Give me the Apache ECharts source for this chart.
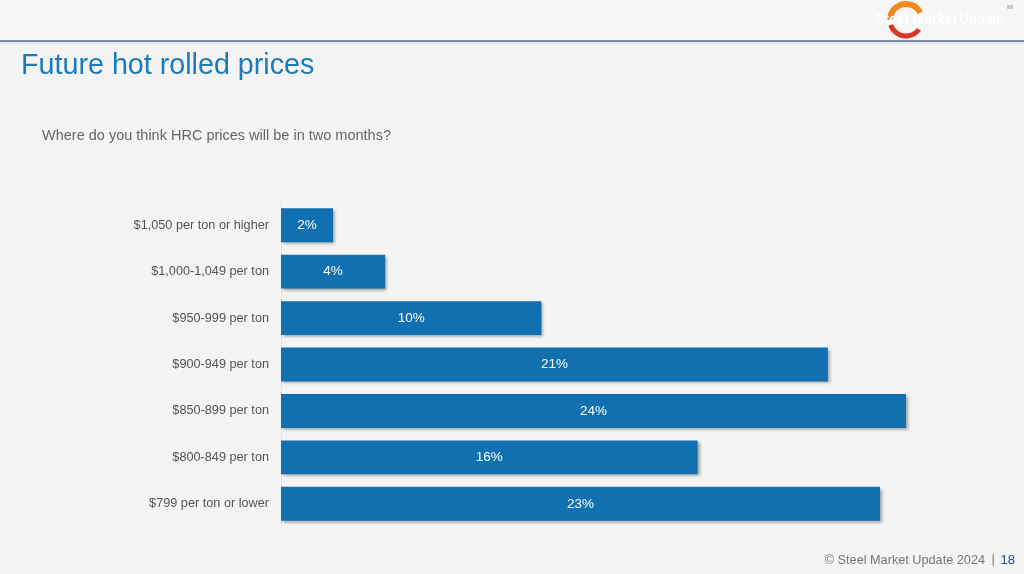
<!DOCTYPE html>
<html><head><meta charset="utf-8">
<script src="https://cdn.jsdelivr.net/npm/echarts@6/dist/echarts.min.js"></script>
<style>html,body{margin:0;padding:0;background:#f4f4f4}#c{width:1024px;height:574px}</style>
</head><body><div id="c"></div>
<script>
const categories = ["$1,050 per ton or higher","$1,000-1,049 per ton","$950-999 per ton","$900-949 per ton","$850-899 per ton","$800-849 per ton","$799 per ton or lower"];
const values = [2,4,10,21,24,16,23];
const titleText = "Future hot rolled prices";
const subtitleText = "Where do you think HRC prices will be in two months?";

const chart = echarts.init(document.getElementById('c'));
const F = '"Liberation Sans", Arial, sans-serif';
chart.setOption({
  backgroundColor: '#f4f4f4',
  animation: false,
  grid: {left: 281, top: 202, width: 625, height: 325},
  xAxis: {type: 'value', min: 0, max: 24, show: false},
  yAxis: {type: 'category', data: categories, inverse: true,
    axisLine: {show: true, lineStyle: {color: '#e2e2e2', width: 1}},
    axisTick: {show: false},
    axisLabel: {color: '#555', fontSize: 12.7, fontFamily: F, margin: 12}},
  series: [{type: 'bar', data: values, barCategoryGap: '27%',
    itemStyle: {color: '#1170b0', shadowColor: 'rgba(0,0,0,0.35)', shadowBlur: 3, shadowOffsetX: 2, shadowOffsetY: 2},
    label: {show: true, position: 'inside', formatter: '{c}%', color: '#fff', fontSize: 13.5, fontFamily: F}}],
  graphic: [
    {type: 'rect', shape: {x: 0, y: 0, width: 1024, height: 41}, style: {fill: '#f6f6f6'}, z: -1},
    {type: 'line', shape: {x1: 0, y1: 41, x2: 1024, y2: 41}, style: {stroke: '#1d2d6b', lineWidth: 1.2, shadowColor: 'rgba(0,0,0,0.25)', shadowBlur: 3, shadowOffsetY: 1}},
    {type: 'arc', shape: {cx: 906, cy: 20, r: 16, startAngle: Math.PI * 1.0, endAngle: Math.PI * 1.85}, style: {stroke: '#f08a1c', lineWidth: 6, fill: null}, z: 1},
    {type: 'arc', shape: {cx: 906, cy: 20, r: 16, startAngle: Math.PI * 0.2, endAngle: Math.PI * 0.9}, style: {stroke: '#d9362b', lineWidth: 5, fill: null}, z: 1},
    {type: 'text', left: 875, top: 13, z: 5, style: {text: 'Steel Market', fill: '#fff', font: 'bold 14px ' + F, shadowColor: 'rgba(0,0,0,0.8)', shadowBlur: 4, shadowOffsetY: 1}},
    {type: 'text', left: 959, top: 13, z: 5, style: {text: 'Update', fill: '#fff', font: '14px ' + F, shadowColor: 'rgba(0,0,0,0.7)', shadowBlur: 4, shadowOffsetY: 1}},
    {type: 'rect', shape: {x: 1007, y: 5, width: 6, height: 4}, style: {fill: '#ccc'}},
    {type: 'text', left: 21, top: 52, style: {text: titleText, fill: '#1a7bbf', font: '28.7px ' + F}},
    {type: 'text', left: 42, top: 128, style: {text: subtitleText, fill: '#666', font: '14.5px ' + F}},
    {type: 'text', right: 39, top: 554, style: {text: '© Steel Market Update 2024', fill: '#777', font: '12.7px ' + F}},
    {type: 'text', right: 29, top: 553, style: {text: '|', fill: '#777', font: '13px ' + F}},
    {type: 'text', right: 9, top: 554, style: {text: '18', fill: '#2b4a8f', font: '13px ' + F}}
  ]
});
</script></body></html>
